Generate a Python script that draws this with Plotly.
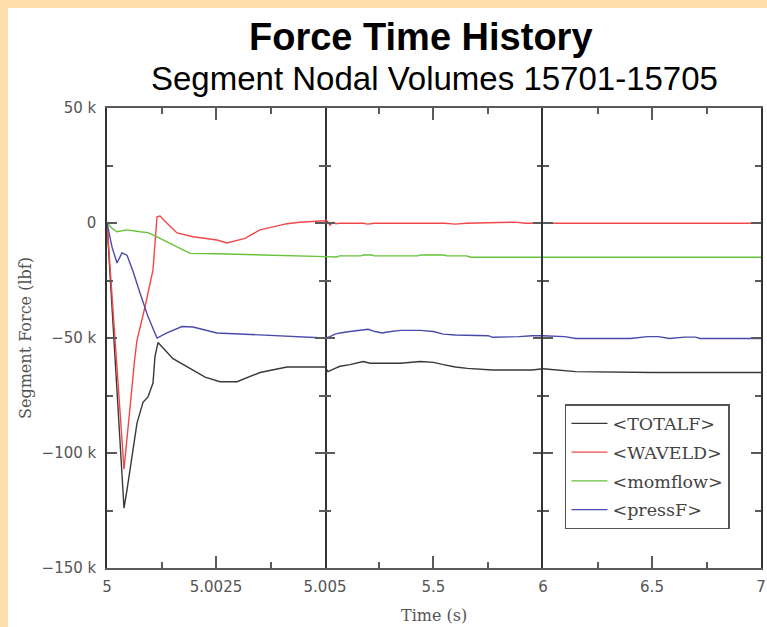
import plotly.graph_objects as go

# ---------------- data (time in s, force in lbf) ----------------
BREAKS = [5.005, 6.0]

names = ["&lt;TOTALF&gt;", "&lt;WAVELD&gt;", "&lt;momflow&gt;", "&lt;pressF&gt;"]
colors = ["#383838", "#F04848", "#66C23A", "#4A4AAE"]

totalf_t = [5, 5.00039, 5.000459, 5.000596, 5.000688, 5.000826, 5.00094, 5.001055, 5.001101,
            5.00117, 5.001514, 5.001972, 5.00225, 5.002592, 5.002982, 5.003509, 5.004128, 5.005,
            5.0187, 5.0508, 5.0736, 5.119, 5.179, 5.211, 5.35, 5.44, 5.5, 5.545, 5.6, 5.655,
            5.77, 5.95, 6.0, 6.07, 6.15, 6.5, 7.0]
totalf_v = [0, -124000, -116000, -99000, -87000, -78000, -75600, -69600, -58000,
            -52000, -59000, -64000, -67000, -69000, -69000, -65000, -62600, -62600,
            -64600, -63200, -62300, -61600, -60200, -61000, -61000, -60200, -60600, -61600, -62600, -63200,
            -63900, -63900, -63400, -64100, -64600, -65000, -65000]

waveld_t = [5, 5.00039, 5.000642, 5.000688, 5.000872, 5.001055, 5.001147, 5.001216, 5.001376,
            5.001606, 5.001972, 5.002523, 5.002752, 5.003165, 5.003509, 5.004128, 5.004427,
            5.004817, 5.005, 5.012, 5.028, 5.041, 5.055, 5.07, 5.179, 5.2, 5.23, 5.26, 5.55,
            5.6, 5.65, 5.87, 5.89, 5.92, 6.0, 7.0]
waveld_v = [0, -107000, -58000, -51000, -36400, -20400, 2700, 3000, -100,
            -4300, -6000, -7400, -8700, -6700, -3000, -300, 300,
            600, 1000, 1300, -900, 300, -300, -100, -100, -500, -100, -100, -100,
            -500, -100, 400, 100, -100, -100, -100]

momflow_t = [5, 5.000115, 5.000229, 5.000459, 5.000757, 5.00094, 5.001147, 5.001376, 5.001606,
             5.001904, 5.002523, 5.003509, 5.004427, 5.005, 5.06, 5.07, 5.17, 5.18, 5.22, 5.23,
             5.43, 5.44, 5.55, 5.56, 5.65, 5.67, 6.0, 7.0]
momflow_v = [0, -2300, -3800, -3000, -3800, -4200, -6000, -8100, -10300,
             -13200, -13400, -13900, -14200, -14600, -14800, -14300, -14300, -13900, -13900, -14300,
             -14300, -13900, -13900, -14300, -14300, -14900, -14900, -14900]

pressf_t = [5, 5.000069, 5.000115, 5.000229, 5.000344, 5.000459, 5.000596, 5.000757, 5.00094,
            5.001147, 5.001376, 5.00172, 5.001972, 5.002523, 5.00367, 5.004427, 5.005,
            5.0279, 5.0508, 5.0736, 5.119, 5.179, 5.202, 5.234, 5.266, 5.289, 5.35, 5.44, 5.5,
            5.545, 5.6, 5.75, 5.77, 5.89, 5.95, 6.0, 6.06, 6.1, 6.15, 6.4, 6.48, 6.53, 6.58,
            6.65, 6.7, 6.72, 7.0]
pressf_v = [0, -6000, -10400, -17400, -13000, -14000, -21000, -30400, -40700,
            -50000, -47800, -45000, -45200, -47800, -48700, -49400, -50000,
            -49400, -48300, -47800, -47200, -46500, -46200, -47200, -47800, -47400, -46700, -46700, -47200,
            -48300, -48700, -49000, -49700, -49400, -49000, -49000, -49100, -49400, -50200, -50200, -49400, -49400, -50200,
            -49600, -49600, -50200, -50200]

series_t = [totalf_t, waveld_t, momflow_t, pressf_t]
series_v = [totalf_v, waveld_v, momflow_v, pressf_v]

x1_ticks = [5, 5.0025, 5.005]
x1_labels = ["5", "5.0025", "5.005"]
x1_minor = [5.00125, 5.00375]
x2_ticks = [5.5, 6]
x2_labels = ["5.5", "6"]
x2_minor = [5.25, 5.75]
x3_ticks = [6.5, 7]
x3_labels = ["6.5", "7"]
x3_minor = [6.25, 6.75]
y_ticks = [50000, 0, -50000, -100000, -150000]
y_labels = ["50 k", "0", "\u221250 k", "\u2212100 k", "\u2212150 k"]
y_minor = [25000, -25000, -75000, -125000]

title_text = "<b>Force Time History</b>"
subtitle_text = "Segment Nodal Volumes 15701-15705"
x_title = "Time (s)"
y_title = "Segment Force (lbf)"

# ---------------- figure ----------------
fig = go.Figure()
ranges = [(5.0, BREAKS[0]), (BREAKS[0], BREAKS[1]), (BREAKS[1], 7.0)]
axis_ids = [("x", "y"), ("x2", "y2"), ("x3", "y3")]
for i in range(len(names)):
    t, v = series_t[i], series_v[i]
    for k, (lo, hi) in enumerate(ranges):
        seg = [(a, b) for a, b in zip(t, v) if lo <= a <= hi]
        fig.add_trace(go.Scatter(
            x=[p[0] for p in seg], y=[p[1] for p in seg], mode="lines",
            line=dict(color=colors[i], width=1.4), name=names[i],
            legendgroup=str(i), showlegend=(k == 0),
            xaxis=axis_ids[k][0], yaxis=axis_ids[k][1]))

tickfont = dict(family="DejaVu Sans", size=15, color="#555555")
AX = "#5a5a5a"
VL = "#333333"
YR = [-150000, 50000]


def xminor(vals):
    return dict(tickvals=vals, ticks="inside", ticklen=6, tickcolor=AX, tickwidth=1.5)


common_x = dict(showline=True, linecolor=AX, linewidth=1.5, mirror="ticks", ticks="inside",
                ticklen=12, tickcolor=AX, tickwidth=1.5, showgrid=False, zeroline=False,
                tickfont=tickfont, ticklabelstandoff=4, tickmode="array", automargin=False)
common_y = dict(range=YR, ticklen=10, tickcolor=AX, tickwidth=1.5, showgrid=False, zeroline=False,
                tickmode="array", tickvals=y_ticks, automargin=False, linewidth=1.5,
                mirror="ticks", ticks="inside",
                minor=dict(tickvals=y_minor, ticks="inside", ticklen=6, tickcolor=AX, tickwidth=1.5))

fig.update_layout(
    template="none",
    width=767, height=627,
    margin=dict(l=107, r=6, t=108, b=59, autoexpand=False),
    paper_bgcolor="#FFDDAB", plot_bgcolor="rgba(0,0,0,0)",
    xaxis=dict(domain=[0, 1/3], range=[5, 5.005], anchor="y", tickvals=x1_ticks, ticktext=x1_labels,
               minor=xminor(x1_minor), **common_x),
    xaxis2=dict(domain=[1/3, 2/3], range=[5.005, 6], anchor="y2", tickvals=x2_ticks, ticktext=x2_labels,
                minor=xminor(x2_minor), **common_x),
    xaxis3=dict(domain=[2/3, 1], range=[6, 7], anchor="y3", tickvals=x3_ticks, ticktext=x3_labels,
                minor=xminor(x3_minor), **common_x),
    yaxis=dict(anchor="x", showline=True, linecolor=VL, ticktext=y_labels, tickfont=tickfont,
               ticklabelstandoff=6, **common_y),
    yaxis2=dict(anchor="x2", matches="y", showline=False, showticklabels=False, **common_y),
    yaxis3=dict(anchor="x3", matches="y", showline=True, linecolor=VL, showticklabels=False, **common_y),
    showlegend=True,
    legend=dict(x=0.7003, y=0.3565, xanchor="left", yanchor="top", bgcolor="white",
                bordercolor="#555555", borderwidth=1.5, tracegroupgap=3, itemwidth=36,
                font=dict(family="DejaVu Serif", size=17.5, color="#444444")),
    shapes=[dict(type="rect", xref="paper", yref="paper", x0=-0.1514, x1=1.05, y0=-0.3, y1=1.2174,
                 fillcolor="white", line=dict(width=0), layer="below")],
    annotations=[
        dict(text=title_text, xref="paper", yref="paper", x=0.480, y=1.1543, xanchor="center",
             yanchor="middle", showarrow=False,
             font=dict(family="Liberation Sans", size=38, color="#000000")),
        dict(text=subtitle_text, xref="paper", yref="paper", x=0.5015, y=1.0652, xanchor="center",
             yanchor="middle", showarrow=False,
             font=dict(family="Liberation Sans", size=33, color="#000000")),
        dict(text=x_title, xref="paper", yref="paper", x=0.5, y=-0.1022, xanchor="center",
             yanchor="middle", showarrow=False,
             font=dict(family="DejaVu Serif", size=16, color="#555555")),
        dict(text=y_title, xref="paper", yref="paper", x=-0.1254, y=0.5, xanchor="center",
             yanchor="middle", showarrow=False, textangle=-90,
             font=dict(family="DejaVu Serif", size=16, color="#555555")),
    ],
)

fig.write_html(
    "out.html",
    config={"displayModeBar": False},
    post_script="document.body.style.margin='0';document.body.style.overflow='hidden';",
)
